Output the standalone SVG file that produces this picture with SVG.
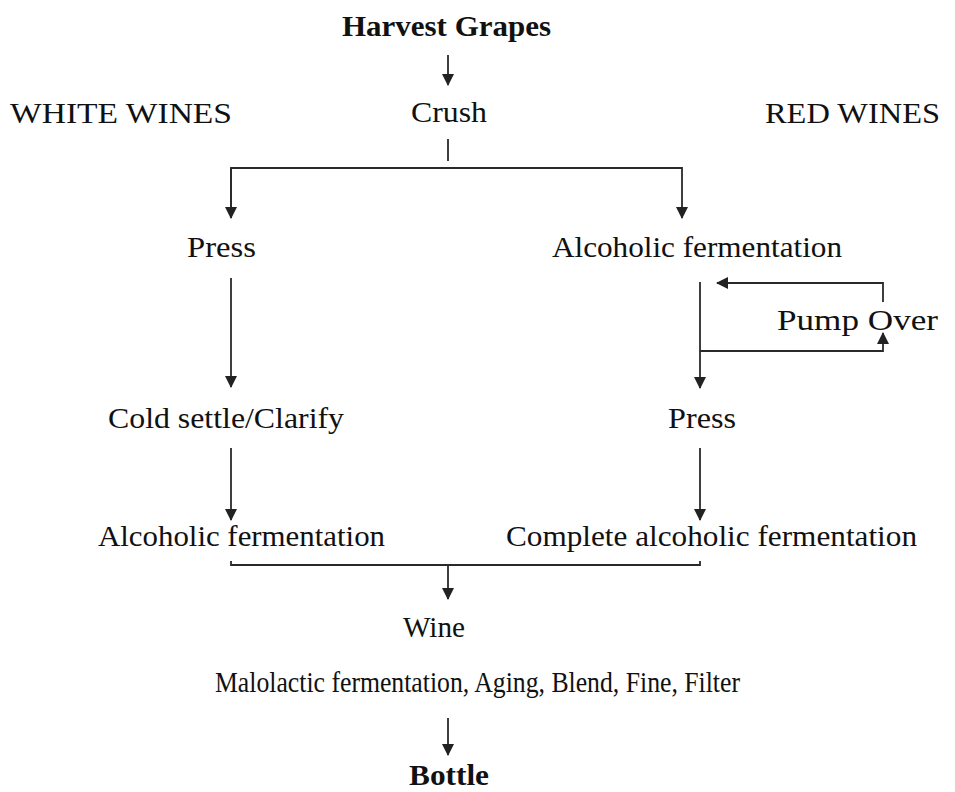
<svg xmlns="http://www.w3.org/2000/svg" width="955" height="792" viewBox="0 0 955 792">
  <style>
    text { font-family: "Liberation Serif", "DejaVu Serif", serif; font-size: 30px; fill: #111; }
    .b { font-weight: bold; }
    .ln { stroke: #2a2a2a; stroke-width: 1.8; fill: none; }
  </style>
  <defs>
    <marker id="ah" markerWidth="12" markerHeight="14" refX="11" refY="6" orient="auto" markerUnits="userSpaceOnUse">
      <path d="M0,0 L12,6 L0,12 Z" fill="#222"/>
    </marker>
  </defs>
  <rect width="955" height="792" fill="#fff"/>

  <g id="connectors">
    <line class="ln" x1="448" y1="55" x2="448" y2="85" marker-end="url(#ah)"/>
    <line class="ln" x1="448" y1="139" x2="448" y2="161"/>
    <polyline class="ln" points="231,218 231,168 682,168 682,218" marker-end="url(#ah)"/>
    <line class="ln" x1="231" y1="168" x2="231" y2="218" marker-end="url(#ah)"/>
    <line class="ln" x1="231" y1="278" x2="231" y2="387" marker-end="url(#ah)"/>
    <line class="ln" x1="700" y1="282" x2="700" y2="388" marker-end="url(#ah)"/>
    <polyline class="ln" points="883,302 883,283 717,283" marker-end="url(#ah)"/>
    <polyline class="ln" points="700,351 883,351 883,333" marker-end="url(#ah)"/>
    <line class="ln" x1="231" y1="448" x2="231" y2="520" marker-end="url(#ah)"/>
    <line class="ln" x1="700" y1="448" x2="700" y2="520" marker-end="url(#ah)"/>
    <polyline class="ln" points="231,561 231,565 700,565 700,561"/>
    <line class="ln" x1="448" y1="565" x2="448" y2="599" marker-end="url(#ah)"/>
    <line class="ln" x1="448" y1="718" x2="448" y2="755" marker-end="url(#ah)"/>
  </g>

  <g id="harvest"><text class="b" x="342" y="36" textLength="209" lengthAdjust="spacingAndGlyphs">Harvest Grapes</text></g>
  <g id="crush"><text x="411" y="122" textLength="76" lengthAdjust="spacingAndGlyphs">Crush</text></g>
  <g id="white-label"><text x="10" y="123" textLength="222" lengthAdjust="spacingAndGlyphs">WHITE WINES</text></g>
  <g id="red-label"><text x="765" y="123" textLength="175" lengthAdjust="spacingAndGlyphs">RED WINES</text></g>
  <g id="press-white"><text x="187" y="257" textLength="69" lengthAdjust="spacingAndGlyphs">Press</text></g>
  <g id="ferment-red"><text x="552" y="257" textLength="290" lengthAdjust="spacingAndGlyphs">Alcoholic fermentation</text></g>
  <g id="pump-over"><text x="777" y="330" textLength="161" lengthAdjust="spacingAndGlyphs">Pump Over</text></g>
  <g id="cold-settle"><text x="108" y="428" textLength="236" lengthAdjust="spacingAndGlyphs">Cold settle/Clarify</text></g>
  <g id="press-red"><text x="668" y="428" textLength="68" lengthAdjust="spacingAndGlyphs">Press</text></g>
  <g id="ferment-white"><text x="98" y="546" textLength="287" lengthAdjust="spacingAndGlyphs">Alcoholic fermentation</text></g>
  <g id="complete-ferment"><text x="506" y="546" textLength="411" lengthAdjust="spacingAndGlyphs">Complete alcoholic fermentation</text></g>
  <g id="wine"><text x="403" y="637" textLength="62" lengthAdjust="spacingAndGlyphs">Wine</text></g>
  <g id="finishing"><text x="215" y="692" textLength="525" lengthAdjust="spacingAndGlyphs">Malolactic fermentation, Aging, Blend, Fine, Filter</text></g>
  <g id="bottle"><text class="b" x="409" y="785" textLength="80" lengthAdjust="spacingAndGlyphs">Bottle</text></g>
</svg>
